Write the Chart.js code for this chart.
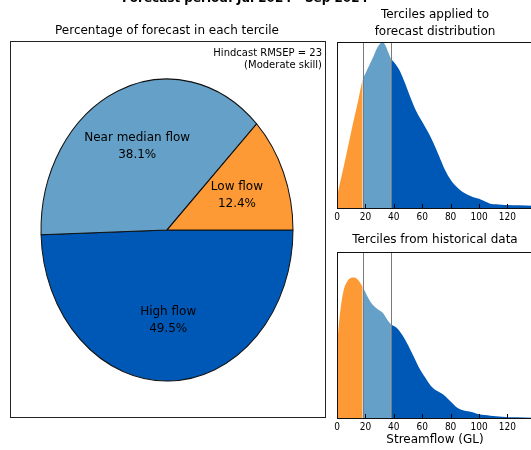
<!DOCTYPE html>
<html>
<head>
<meta charset="utf-8">
<script src="https://cdn.jsdelivr.net/npm/chart.js@4/dist/chart.umd.min.js"></script>
<style>
  html, body { margin: 0; padding: 0; background: #fff; overflow: hidden; width: 531px; height: 450px; }
  canvas { position: absolute; }
</style>
</head>
<body>
<canvas id="pie" width="531" height="450" style="left:0;top:0"></canvas>
<canvas id="fcst" width="215" height="230" style="left:330px;top:0"></canvas>
<canvas id="hist" width="215" height="220" style="left:330px;top:230px"></canvas>
<script>
// ---- data -------------------------------------------------------------
const figureTitle = 'Forecast period: Jul 2024 - Sep 2024';
const terciles = ['Low flow', 'Near median flow', 'High flow'];
const tercilePercent = [12.4, 38.1, 49.5];
const skillLines = ['Hindcast RMSEP = 23', '(Moderate skill)'];
const tercileBounds = [18, 38];           // GL, from historical record
const xTicks = [0, 20, 40, 60, 80, 100, 120];

// forecast streamflow density (relative to panel height)
const fcstFlow = [0, 5, 10, 15, 18, 20, 25, 28, 31, 32, 34, 36, 38, 40, 44, 48, 52, 56, 60, 64, 68, 72, 76, 80, 84, 88, 92, 96, 100, 104, 108, 112, 116, 120, 128, 138];
const fcstDensity = [0.07, 0.26, 0.46, 0.65, 0.77, 0.81, 0.90, 0.96, 0.995, 1.0, 0.98, 0.94, 0.90, 0.88, 0.83, 0.75, 0.66, 0.58, 0.52, 0.46, 0.39, 0.31, 0.23, 0.17, 0.13, 0.10, 0.08, 0.065, 0.055, 0.04, 0.025, 0.022, 0.02, 0.018, 0.016, 0.014];

// historical streamflow density (relative to panel height)
const histFlow = [0, 1.5, 3, 5, 7, 9, 12, 15, 18, 21, 24, 28, 32, 36, 38, 42, 46, 50, 54, 58, 62, 66, 70, 75, 80, 85, 90, 94, 100, 108, 116, 126, 138];
const histDensity = [0.43, 0.58, 0.69, 0.78, 0.82, 0.84, 0.846, 0.83, 0.79, 0.74, 0.695, 0.66, 0.635, 0.585, 0.565, 0.544, 0.50, 0.44, 0.37, 0.30, 0.245, 0.195, 0.165, 0.14, 0.10, 0.06, 0.044, 0.038, 0.022, 0.014, 0.008, 0.004, 0.002];

const colours = ['#fd9a35', '#64a0c8', '#0058b6'];

// ---- shared settings --------------------------------------------------
Chart.defaults.font.family = "'DejaVu Sans', sans-serif";
Chart.defaults.color = '#000';
const stretch = 151 / 126;                // vertical stretch of the pie axes
const tickFont = { family: "'Liberation Sans Narrow', 'DejaVu Sans Condensed', 'DejaVu Sans'", size: 10 };

// ---- pie of tercile probabilities --------------------------------------
const pieOrder = [2, 1, 0]; // drawn clockwise from east

const ellipse = {
  id: 'ellipse',
  beforeDatasetsDraw(chart) {
    const arc = chart.getDatasetMeta(0).data[0];
    const ctx = chart.ctx;
    ctx.save();
    ctx.translate(arc.x, arc.y);
    ctx.scale(1, stretch);
    ctx.translate(-arc.x, -arc.y);
  },
  afterDatasetsDraw(chart) { chart.ctx.restore(); }
};

const pieDecor = {
  id: 'pieDecor',
  afterDraw(chart) {
    const ctx = chart.ctx;
    ctx.save();
    // slice labels
    ctx.fillStyle = '#000';
    ctx.font = "12px 'DejaVu Sans'";
    ctx.textAlign = 'center';
    ctx.textBaseline = 'middle';
    chart.getDatasetMeta(0).data.forEach((arc, k) => {
      const i = pieOrder[k];
      const mid = (arc.startAngle + arc.endAngle) / 2;
      const r = arc.outerRadius * 0.6;
      const x = arc.x + Math.cos(mid) * r;
      const y = arc.y + Math.sin(mid) * r * stretch;
      ctx.fillText(terciles[i], x, y - 8.5);
      ctx.fillText(tercilePercent[i].toFixed(1) + '%', x, y + 8.5);
    });
    // axes frame
    ctx.strokeStyle = '#222';
    ctx.lineWidth = 1;
    ctx.strokeRect(10.5, 41.5, 315, 376);
    // skill annotation
    ctx.font = "10px 'DejaVu Sans'";
    ctx.textAlign = 'right';
    ctx.fillText(skillLines[0], 322, 53);
    ctx.fillText(skillLines[1], 322, 65);
    // figure title
    ctx.font = "bold 12px 'DejaVu Sans'";
    ctx.textAlign = 'center';
    ctx.textBaseline = 'alphabetic';
    ctx.fillText(figureTitle, 245, 2);
    ctx.restore();
  }
};

new Chart(document.getElementById('pie'), {
  type: 'pie',
  data: {
    labels: pieOrder.map(i => terciles[i]),
    datasets: [{
      data: pieOrder.map(i => tercilePercent[i]),
      backgroundColor: pieOrder.map(i => colours[i]),
      borderColor: '#111',
      borderWidth: 1,
      clip: false
    }]
  },
  options: {
    responsive: false,
    animation: false,
    events: [],
    rotation: 90,
    layout: { padding: { left: 40.5, right: 237.5, top: 23.8, bottom: 93.5 } },
    plugins: {
      legend: { display: false },
      tooltip: { enabled: false },
      title: {
        display: true,
        text: 'Percentage of forecast in each tercile',
        font: { size: 12, weight: 'normal' },
        color: '#000',
        padding: { top: 0, bottom: 65.3 }
      }
    }
  },
  plugins: [ellipse, pieDecor]
});

// ---- density panels -----------------------------------------------------
function tercileOf(x) {
  return x < tercileBounds[0] ? 0 : (x < tercileBounds[1] ? 1 : 2);
}

const panelDecor = {
  id: 'panelDecor',
  afterDatasetsDraw(chart) {
    const ctx = chart.ctx;
    const a = chart.chartArea;
    const xs = chart.scales.x;
    ctx.save();
    // tercile boundaries
    ctx.strokeStyle = '#7a7a7a';
    ctx.lineWidth = 1;
    tercileBounds.forEach(b => {
      const px = Math.round(xs.getPixelForValue(b)) + 0.5;
      ctx.beginPath();
      ctx.moveTo(px, a.top);
      ctx.lineTo(px, a.bottom);
      ctx.stroke();
    });
    // inward tick marks
    ctx.strokeStyle = '#000';
    xTicks.forEach(v => {
      const px = Math.round(xs.getPixelForValue(v)) + 0.5;
      ctx.beginPath();
      ctx.moveTo(px, a.bottom);
      ctx.lineTo(px, a.bottom - 4);
      ctx.stroke();
    });
    // frame
    ctx.strokeStyle = '#111';
    ctx.strokeRect(Math.round(a.left) + 0.5, Math.round(a.top) + 0.5,
                   Math.round(a.right - a.left), Math.round(a.bottom - a.top));
    ctx.restore();
  }
};

function densityPanel(id, flow, density, title, titleLH, pad, scaleHeight, axisTitle) {
  return new Chart(document.getElementById(id), {
    type: 'line',
    data: {
      datasets: [{
        data: flow.map((x, i) => ({ x: x, y: density[i] })),
        fill: 'origin',
        backgroundColor: colours[2],
        borderColor: 'rgba(0,0,0,0)',
        borderWidth: 0,
        pointRadius: 0,
        cubicInterpolationMode: 'monotone',
        segment: {
          backgroundColor: c => colours[tercileOf(c.p0.parsed.x)]
        }
      }]
    },
    options: {
      responsive: false,
      animation: false,
      events: [],
      layout: { padding: pad },
      scales: {
        x: {
          type: 'linear',
          min: 0,
          max: 138,
          grid: { display: false, drawTicks: false },
          border: { display: false },
          ticks: { font: tickFont, color: '#000', padding: 3.5, maxRotation: 0, autoSkip: false },
          afterBuildTicks: s => { s.ticks = xTicks.map(v => ({ value: v })); },
          afterFit: s => { s.height = scaleHeight; },
          title: axisTitle ? {
            display: true, text: axisTitle, color: '#000',
            font: { size: 12 }, padding: { top: 0, bottom: 0 }
          } : { display: false }
        },
        y: { display: false, min: 0, max: 1 }
      },
      plugins: {
        legend: { display: false },
        tooltip: { enabled: false },
        title: {
          display: true,
          text: title,
          color: '#000',
          font: { size: 12, weight: 'normal', lineHeight: titleLH },
          padding: pad.titlePad
        }
      }
    },
    plugins: [panelDecor]
  });
}

densityPanel('fcst', fcstFlow, fcstDensity,
  ['Terciles applied to', 'forecast distribution'], 1.375,
  { left: 7, right: 12, top: 7, bottom: 2, titlePad: { top: 0, bottom: 2 } }, 20, null);

densityPanel('hist', histFlow, histDensity,
  'Terciles from historical data', 1.375,
  { left: 7, right: 12, top: 1.75, bottom: 3, titlePad: { top: 0, bottom: 3.75 } }, 29, 'Streamflow (GL)');
</script>
</body>
</html>
